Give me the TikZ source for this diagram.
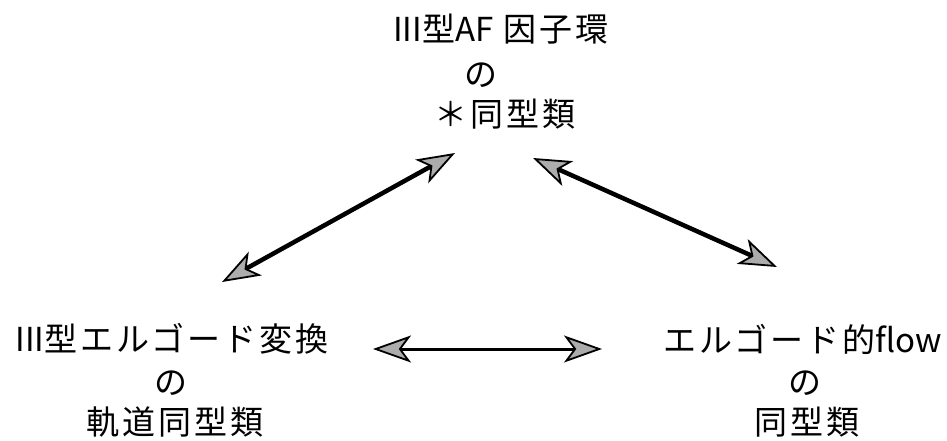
\documentclass[tikz,border=0pt]{standalone}
\usepackage{fontspec}
\setmainfont{Noto Sans CJK JP}
\usetikzlibrary{arrows.meta}
\tikzset{mytip/.tip={Stealth[length=38pt,width=27pt,inset=10pt,line width=1.8pt,fill=gray!65]}}
\newcommand{\nsp}[1]{{\addfontfeature{LetterSpace=0}#1}}
\begin{document}
\begin{tikzpicture}[x=1pt,y=-1pt,
  lbl/.style={font=\fontsize{33}{36}\selectfont\addfontfeature{LetterSpace=9}, inner sep=0pt},
  diag/.style={line width=4.5pt,mytip-mytip},
  horiz/.style={line width=3pt,mytip-mytip}]
\useasboundingbox (0,0) rectangle (947,441);
% top block
\node[lbl] (t1) at (501,29) {\nsp{III}型\nsp{AF} 因子環};
\node[lbl] (t2) at (481,75) {の};
\node[lbl] (t3) at (505,114) {＊同型類};
% left block
\node[lbl] (l1) at (172,339) {\nsp{III}型エルゴード変換};
\node[lbl] (l2) at (171,383) {の};
\node[lbl] (l3) at (175,422) {軌道同型類};
% right block
\node[lbl] (r1) at (803,339) {エルゴード的\nsp{flow}};
\node[lbl] (r2) at (805,383) {の};
\node[lbl] (r3) at (807,422) {同型類};
% arrow ends
\coordinate (aTL) at (455,153);
\coordinate (aBL) at (222,282);
\coordinate (aTR) at (533,158);
\coordinate (aBR) at (777,267);
\coordinate (hL) at (373,349);
\coordinate (hR) at (602,349);
\draw[diag] (aBL) -- (aTL);
\draw[diag] (aTR) -- (aBR);
\draw[horiz] (hL) -- (hR);
\end{tikzpicture}
\end{document}
